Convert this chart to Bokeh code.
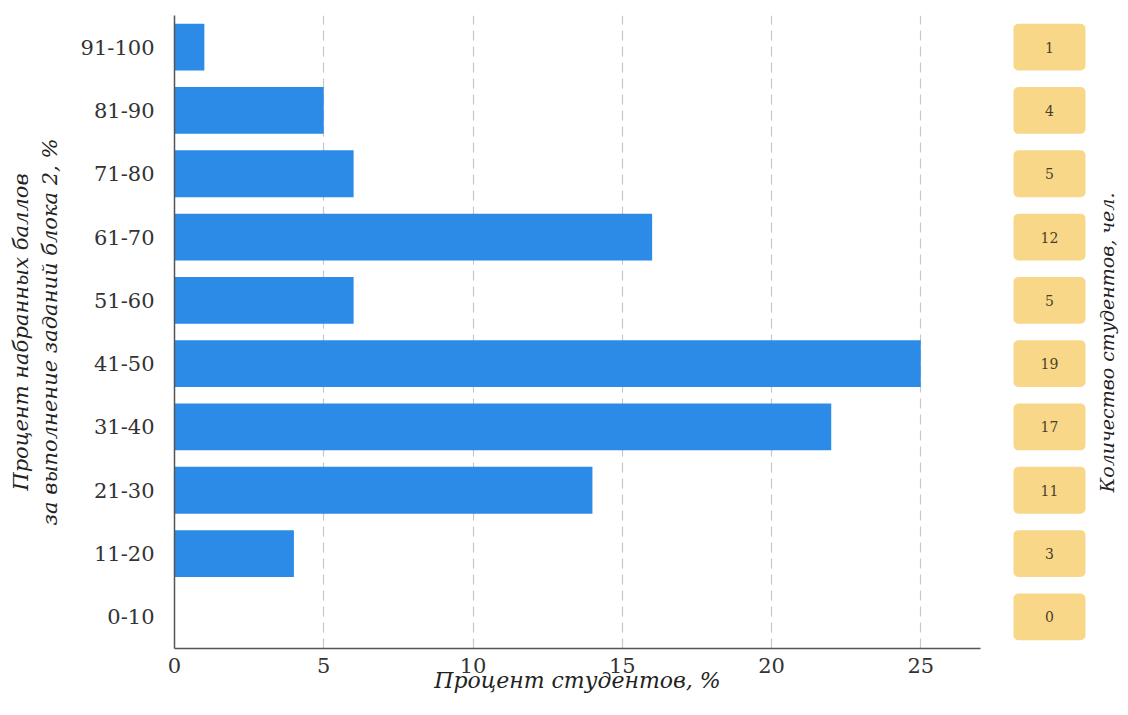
from bokeh.plotting import figure
from bokeh.layouts import row
from bokeh.models import FactorRange, Range1d, Label, ColumnDataSource, SingleIntervalTicker
from bokeh.core.properties import value
from bokeh.embed import file_html
from bokeh.resources import INLINE
import math

categories = ["0-10", "11-20", "21-30", "31-40", "41-50", "51-60", "61-70", "71-80", "81-90", "91-100"]
percent = [0, 4, 14, 22, 25, 6, 16, 6, 5, 1]
counts = [0, 3, 11, 17, 19, 5, 12, 5, 4, 1]

SERIF = "DejaVu Serif"
H = 700
TOP = 15
BOTTOM = 52

src = ColumnDataSource(dict(cat=categories, pct=percent, cnt=[str(c) for c in counts]))

yr = FactorRange(factors=categories, range_padding=0)
p = figure(width=985, height=H, y_range=yr, x_range=Range1d(0, 27),
           output_backend="svg", toolbar_location=None,
           min_border_left=174, min_border_right=5, min_border_top=TOP, min_border_bottom=BOTTOM)
p.outline_line_color = None
p.hbar(y="cat", right="pct", height=0.74, source=src, color="#2b8be6", line_color=None)

p.ygrid.grid_line_color = None
p.xgrid.grid_line_color = "#c8c8c8"
p.xgrid.grid_line_dash = "10 6"
p.xgrid.grid_line_width = 1.2
p.xaxis.ticker = SingleIntervalTicker(interval=5)

for ax in (p.xaxis[0], p.yaxis[0]):
    ax.axis_line_color = "#555555"
    ax.axis_line_width = 1.5
    ax.major_tick_line_color = None
    ax.minor_tick_line_color = None
    ax.major_label_text_font = SERIF
    ax.major_label_text_font_size = "21px"
    ax.major_label_text_color = "#333333"
    ax.axis_label_text_font = SERIF
    ax.axis_label_text_font_style = "italic"
    ax.axis_label_text_color = "#222222"

p.yaxis.major_label_standoff = 14
p.xaxis.major_label_standoff = 3
p.xaxis.axis_label = "Процент студентов, %"
p.xaxis.axis_label_text_font_size = "22px"
p.xaxis.axis_label_standoff = -8
p.yaxis.axis_label = "Процент набранных баллов\nза выполнение заданий блока 2, %"
p.yaxis.axis_label_text_font_size = "21px"
p.yaxis.axis_label_standoff = 16

p2 = figure(width=135, height=H, y_range=yr, x_range=Range1d(0, 135),
            output_backend="svg", toolbar_location=None,
            min_border_left=0, min_border_right=0, min_border_top=TOP, min_border_bottom=BOTTOM)
p2.outline_line_color = None
p2.axis.visible = False
p2.grid.grid_line_color = None
p2.rect(x=64, y="cat", width=72, height=0.74, source=src, fill_color="#f8d888",
        line_color=None, border_radius=5)
p2.text(x=64, y="cat", text="cnt", source=src, text_align="center", text_baseline="middle",
        text_font=value(SERIF), text_font_size="14px", text_color="#4a3f2a")
p2.add_layout(Label(x=121, y=306, x_units="screen", y_units="screen",
                    text="Количество студентов, чел.", angle=math.pi / 2,
                    text_align="center", text_baseline="middle",
                    text_font=SERIF, text_font_style="italic", text_font_size="19px",
                    text_color="#222222"))

layout = row(p, p2)
open("out.html", "w").write(file_html(layout, INLINE))
